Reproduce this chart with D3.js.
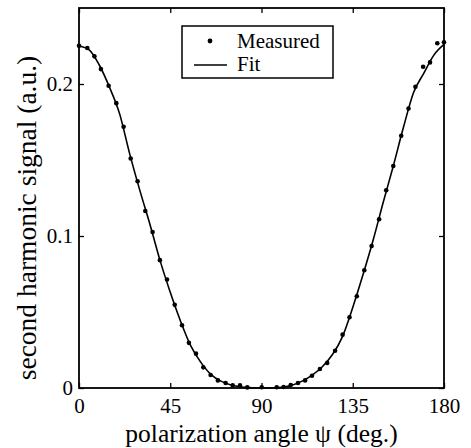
<!DOCTYPE html>
<html>
<head>
<meta charset="utf-8">
<script src="https://cdn.jsdelivr.net/npm/d3@7"></script>
<style>
  body { margin: 0; background: #fff; }
  svg { display: block; font-family: "Liberation Serif", "Times New Roman", serif; }
</style>
</head>
<body>
<div id="chart"></div>
<script>
// measured points
const measuredAngle = [0, 4.1, 7.6, 10.8, 14.6, 18.4, 22.0, 25.5, 28.9, 32.7, 36.3, 39.9, 43.4, 47.2,
  50.8, 54.2, 57.7, 61.3, 64.9, 68.5, 72.3, 75.8, 79.4, 83.0, 90.1, 97.5, 100.9, 104.4, 108.0,
  111.5, 114.9, 118.8, 122.4, 126.3, 130.0, 133.4, 137.0, 140.7, 144.3, 148.0, 151.5, 155.0,
  158.9, 162.5, 165.9, 169.7, 173.1, 176.7, 180.0];
const measuredSignal = [0.2252, 0.2237, 0.2182, 0.2098, 0.1988, 0.1874, 0.1719, 0.151, 0.136, 0.1164,
  0.1026, 0.0841, 0.0714, 0.0547, 0.0413, 0.0297, 0.0226, 0.0136, 0.0086, 0.0050, 0.0033, 0.0017,
  0.0017, 0.0004, 0.0005, 0.0005, 0.0007, 0.0020, 0.0033, 0.0050, 0.0081, 0.0125, 0.0165, 0.0245,
  0.0351, 0.0465, 0.0604, 0.0775, 0.0934, 0.1110, 0.1301, 0.1461, 0.1660, 0.1839, 0.1982, 0.2113,
  0.2142, 0.2268, 0.2274];

// fit curve, sampled along the drawn line
const fitAngle = [0, 5, 10, 15, 20, 25, 30, 35, 40, 45, 50, 55, 60, 65, 70, 75, 80, 85, 90, 95,
  100, 105, 110, 115, 120, 125, 130, 135, 140, 145, 150, 155, 160, 165, 170, 175, 180];
const fitSignal = [0.225, 0.2225, 0.2125, 0.198, 0.1805, 0.154, 0.130, 0.1076, 0.0838, 0.063, 0.0443,
  0.028, 0.017, 0.009, 0.0045, 0.002, 0.0007, 0.0002, 0, 0.0001, 0.0004, 0.0018, 0.0045, 0.0085,
  0.014, 0.022, 0.034, 0.053, 0.0743, 0.097, 0.122, 0.1461, 0.1715, 0.1944, 0.207, 0.219, 0.226];

const xTicks = [0, 45, 90, 135, 180];
const yTicks = [0, 0.1, 0.2];
const legendLabels = ["Measured", "Fit"];

const W = 471, H = 448;
const margin = { top: 8, right: 27, bottom: 60, left: 79 };
const width = W - margin.left - margin.right;
const height = H - margin.top - margin.bottom;

const svg = d3.select("#chart")
  .append("svg")
  .attr("width", W)
  .attr("height", H);

const g = svg.append("g")
  .attr("transform", `translate(${margin.left},${margin.top})`);

const x = d3.scaleLinear().domain([0, 180]).range([0, width]);
const y = d3.scaleLinear().domain([0, 0.25]).range([height, 0]);

const fmtY = d => d === 0 ? "0" : d3.format(".1f")(d);

// bottom axis (inward ticks)
const xAxis = g.append("g")
  .attr("transform", `translate(0,${height})`)
  .call(d3.axisBottom(x).tickValues(xTicks).tickSizeInner(-5).tickSizeOuter(0).tickPadding(10));
// left axis
const yAxis = g.append("g")
  .call(d3.axisLeft(y).tickValues(yTicks).tickFormat(fmtY).tickSizeInner(-5).tickSizeOuter(0).tickPadding(6));
// top + right: ticks only
const xTop = g.append("g")
  .call(d3.axisTop(x).tickValues(xTicks).tickSizeInner(-5).tickSizeOuter(0).tickFormat(""));
const yRight = g.append("g")
  .attr("transform", `translate(${width},0)`)
  .call(d3.axisRight(y).tickValues(yTicks).tickSizeInner(-5).tickSizeOuter(0).tickFormat(""));

[xAxis, yAxis, xTop, yRight].forEach(a => {
  a.select(".domain").remove();
  a.selectAll(".tick line").attr("stroke", "#000").attr("stroke-width", 1.3);
  a.selectAll("text")
    .attr("fill", "#000")
    .style("font-family", "Liberation Serif, serif")
    .style("font-size", "21px");
});

// box
g.append("rect")
  .attr("x", 0).attr("y", 0)
  .attr("width", width).attr("height", height)
  .attr("fill", "none")
  .attr("stroke", "#000")
  .attr("stroke-width", 1.8);

// fit line
const line = d3.line()
  .x((d, i) => x(fitAngle[i]))
  .y(d => y(d))
  .curve(d3.curveMonotoneX);

g.append("path")
  .datum(fitSignal)
  .attr("fill", "none")
  .attr("stroke", "#000")
  .attr("stroke-width", 1.6)
  .attr("d", line);

// measured points
g.selectAll("circle.pt")
  .data(measuredSignal)
  .join("circle")
  .attr("class", "pt")
  .attr("cx", (d, i) => x(measuredAngle[i]))
  .attr("cy", d => y(d))
  .attr("r", 2.3)
  .attr("fill", "#000");

// legend
const leg = svg.append("g").attr("transform", "translate(182,26)");
leg.append("rect")
  .attr("width", 151).attr("height", 52)
  .attr("fill", "#fff")
  .attr("stroke", "#000")
  .attr("stroke-width", 1.5);
leg.append("circle").attr("cx", 28).attr("cy", 15).attr("r", 2.4).attr("fill", "#000");
leg.append("line")
  .attr("x1", 12).attr("x2", 45).attr("y1", 39).attr("y2", 39)
  .attr("stroke", "#000").attr("stroke-width", 1.6);
leg.selectAll("text")
  .data(legendLabels)
  .join("text")
  .attr("x", 55)
  .attr("y", (d, i) => 22 + i * 23)
  .style("font-size", "21px")
  .text(d => d);

// axis titles
svg.append("text")
  .attr("x", margin.left + width / 2)
  .attr("y", 442)
  .attr("text-anchor", "middle")
  .style("font-size", "25.5px")
  .text("polarization angle ψ (deg.)");

svg.append("text")
  .attr("transform", `translate(36,218) rotate(-90)`)
  .attr("text-anchor", "middle")
  .style("font-size", "27.5px")
  .text("second harmonic signal (a.u.)");
</script>
</body>
</html>
